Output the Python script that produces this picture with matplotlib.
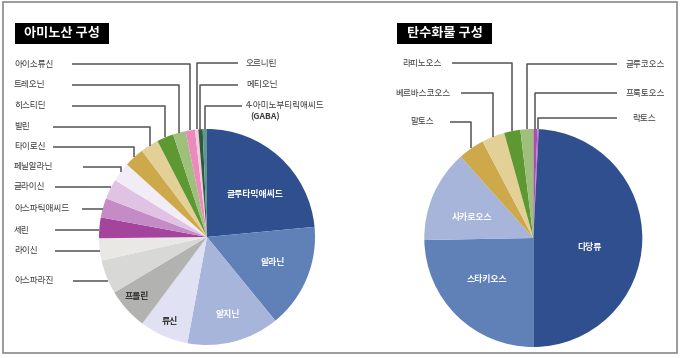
import numpy as np
import matplotlib.pyplot as plt
from matplotlib.patches import Rectangle

plt.rcParams['font.family'] = ['Noto Sans CJK KR', 'DejaVu Sans']

W, H = 680, 358

# 아미노산 구성 (%), clockwise from 12 o'clock
amino_names = ['글루타믹애씨드', '알라닌', '알지닌', '류신', '프롤린', '아스파라진', '라이신', '세린',
               '아스파틱애씨드', '글라이신', '페닐알라닌', '타이로신', '발린', '히스티딘', '트레오닌',
               '아이소류신', '오르니틴', '메티오닌', 'GABA']
amino_vals = [23.5, 15.6, 13.8, 7.3, 6.2, 5.1, 3.3, 3.1,
              2.9, 3.0, 2.9, 3.0, 2.7, 2.5, 1.9,
              1.4, 0.5, 0.64, 0.64]
amino_colors = ['#2f4f8f', '#6080b8', '#a8b5da', '#e0e1f2', '#b2b3b0', '#d8d8d6', '#e9e8e4', '#a4449c',
                '#c58bc6', '#e0c2e2', '#f2ecf6', '#cda94c', '#e3d096', '#5e9833', '#9fc07a',
                '#e98bbb', '#f6c8dc', '#2c5b3e', '#5f9690']

# 탄수화물 구성 (%), clockwise from 12 o'clock
carb_names = ['프룩토오스', '락토스', '다당류', '스타키오스', '사카로오스', '말토스',
              '베르바스코오스', '라피노오스', '글루코오스']
carb_vals = [0.6, 0.2, 49.2, 24.7, 13.7, 3.9, 3.4, 2.4, 1.9]
carb_colors = ['#a84fb5', '#c070c0', '#2f4f8f', '#6080b8', '#a8b5da', '#cda94c',
               '#e3d096', '#5e9833', '#9fc07a']


def py(y):
    # pixel row (from top) -> data y
    return H - y


fig = plt.figure(figsize=(W / 100, H / 100), dpi=100)
ax = fig.add_axes([0, 0, 1, 1])

# pies
left_c, left_r = (207, py(237)), 108
right_c, right_r = (533.3, py(238)), 109

wl, _ = ax.pie(amino_vals, colors=amino_colors, startangle=90, counterclock=False,
               center=left_c, radius=left_r, wedgeprops=dict(linewidth=0))
wr, _ = ax.pie(carb_vals, colors=carb_colors, startangle=90, counterclock=False,
               center=right_c, radius=right_r, wedgeprops=dict(linewidth=0))

ax.set_xlim(0, W)
ax.set_ylim(0, H)
ax.set_aspect('equal')
ax.axis('off')

# frame and title boxes
ax.add_patch(Rectangle((3, py(353)), 674, 351, fill=False, edgecolor='#8a8a8a', lw=1.2))
for x0, x1, title in [(15, 109, '아미노산 구성'), (397, 492, '탄수화물 구성')]:
    ax.add_patch(Rectangle((x0, py(44)), x1 - x0, 21.3, facecolor='black', edgecolor='none'))
    ax.text((x0 + x1) / 2, py(33.5), title, color='white', fontsize=9.5, fontweight='bold',
            ha='center', va='center')

line_kw = dict(color='#555555', lw=1.1, solid_capstyle='butt')
lab_kw = dict(fontsize=6.2, color='#3a3a3a', va='center')


def mid_point(wedge, center, r):
    a = np.deg2rad((wedge.theta1 + wedge.theta2) / 2)
    return center[0] + r * np.cos(a), center[1] + r * np.sin(a)


def connect(wedge, center, r, label_y, x_end, mode):
    ly = py(label_y)
    if mode == 'flat':
        dy = ly - center[1]
        xe = center[0] - np.sqrt(r ** 2 - dy ** 2)
        ax.plot([x_end, xe], [ly, ly], **line_kw)
    else:
        xm, ym = mid_point(wedge, center, r)
        ax.plot([x_end, xm, xm], [ly, ly, ym], **line_kw)


# left chart outside labels: name -> (text x, text y, ha, line x, mode)
amino_layout = {
    '아이소류신': (14, 64, 'left', 71.7, 'elbow'),
    '트레오닌': (14, 85, 'left', 71.7, 'elbow'),
    '히스티딘': (14, 105.7, 'left', 71.7, 'elbow'),
    '발린': (14, 126.7, 'left', 53.3, 'elbow'),
    '타이로신': (14, 146.7, 'left', 53.3, 'elbow'),
    '페닐알라닌': (14, 166.7, 'left', 83.3, 'elbow'),
    '글라이신': (14, 186.7, 'left', 55, 'flat'),
    '아스파틱애씨드': (14, 209, 'left', 81.7, 'flat'),
    '세린': (14, 230, 'left', 55, 'flat'),
    '라이신': (14, 251, 'left', 55, 'flat'),
    '아스파라진': (14, 281, 'left', 72.7, 'flat'),
    '오르니틴': (246, 63.3, 'left', 238.3, 'elbow'),
    '메티오닌': (246, 85, 'left', 238.3, 'elbow'),
    'GABA': (246, 105.7, 'left', 241.5, 'elbow'),
}
for name, (tx, ty, ha, lx, mode) in amino_layout.items():
    w = wl[amino_names.index(name)]
    connect(w, left_c, left_r, ty, lx, mode)
    if name == 'GABA':
        ax.text(tx, py(ty), '4-아미노부티릭애씨드', ha=ha, **lab_kw)
        ax.text(tx + 4, py(ty + 11), '(GABA)', ha=ha, fontweight='bold', **lab_kw)
    else:
        ax.text(tx, py(ty), name, ha=ha, **lab_kw)

# right chart outside labels
carb_layout = {
    '라피노오스': (421.7, 63.3, 'center', 451.7),
    '베르바스코오스': (423, 93.3, 'center', 460.7),
    '말토스': (421.7, 121.7, 'center', 450),
    '글루코오스': (645, 64, 'center', 616.7),
    '프룩토오스': (645, 93.3, 'center', 616.7),
    '락토스': (644, 118.3, 'center', 616.7),
}
for name, (tx, ty, ha, lx) in carb_layout.items():
    w = wr[carb_names.index(name)]
    connect(w, right_c, right_r, ty, lx, 'elbow')
    ax.text(tx, py(ty), name, ha=ha, **lab_kw)

# inside labels
inside = [
    ('글루타믹애씨드', 255, 195, 'white'),
    ('알라닌', 273.3, 262.7, 'white'),
    ('알지닌', 228.3, 314, 'white'),
    ('류신', 170, 321.7, '#333333'),
    ('프롤린', 136.7, 296, '#333333'),
    ('사카로오스', 471.7, 217.7, 'white'),
    ('스타키오스', 486.7, 279.3, 'white'),
    ('다당류', 590, 247.7, 'white'),
]
for name, tx, ty, c in inside:
    ax.text(tx, py(ty), name, color=c, fontsize=6.4, fontweight='bold', ha='center', va='center')

fig.savefig('out.png', dpi=100)
